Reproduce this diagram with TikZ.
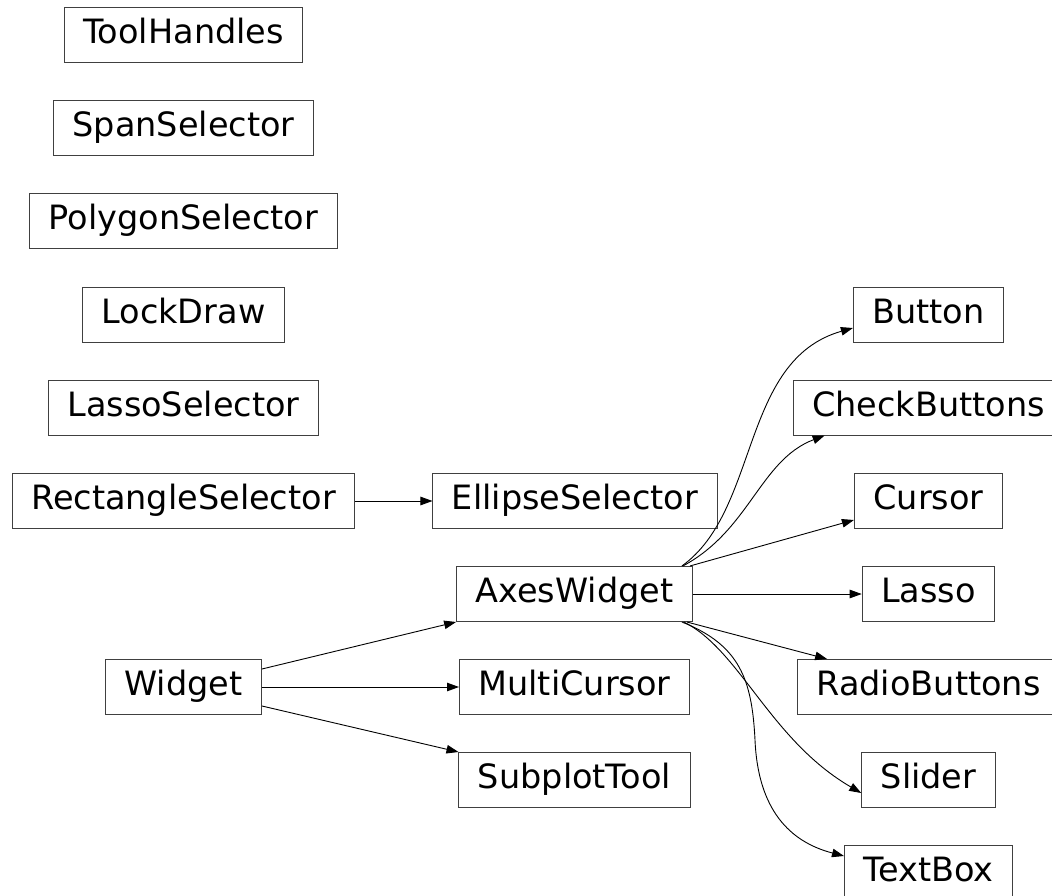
\documentclass[tikz,border=0pt]{standalone}
\usepackage{fontspec}
\setmainfont{DejaVu Sans}
\usetikzlibrary{arrows.meta}
\begin{document}
\begin{tikzpicture}[x=1pt,y=-1pt,
  cls/.style={draw=black!75,line width=1pt,rectangle,inner xsep=19pt,inner ysep=0pt,
    minimum height=55pt,text height=25pt,text depth=8pt,
    font=\fontsize{33.5}{40}\selectfont},
  edge/.style={draw=black,line width=0.9pt,-{Triangle[length=12pt,width=8.5pt]}}]
\useasboundingbox (0,0) rectangle (1052,896);
% left column
\node[cls] (toolh) at (183.5,35) {ToolHandles};
\node[cls] (span) at (183.5,128) {SpanSelector};
\node[cls] (poly) at (183.5,221) {PolygonSelector};
\node[cls] (lock) at (183.5,314.5) {LockDraw};
\node[cls] (lassosel) at (183.5,407.5) {LassoSelector};
\node[cls] (rect) at (183.5,501) {RectangleSelector};
\node[cls] (widget) at (183.5,687) {Widget};
% middle column
\node[cls] (ell) at (575,501) {EllipseSelector};
\node[cls] (axes) at (574.5,594) {AxesWidget};
\node[cls] (multi) at (574.5,687) {MultiCursor};
\node[cls] (subplot) at (574.5,780) {SubplotTool};
% right column
\node[cls] (button) at (928.5,314.5) {Button};
\node[cls] (check) at (928.5,407.5) {CheckButtons};
\node[cls] (cursor) at (928.5,501) {Cursor};
\node[cls] (lasso) at (928.5,594) {Lasso};
\node[cls] (radio) at (928.5,687) {RadioButtons};
\node[cls] (slider) at (928.5,780) {Slider};
\node[cls] (textbox) at (928.5,873) {TextBox};
% edges
\draw[edge] (rect.east) -- (ell.west);
\draw[edge] ([yshift=18pt]widget.east) -- (axes.south west);
\draw[edge] (widget.east) -- (multi.west);
\draw[edge] ([yshift=-19pt]widget.east) -- (subplot.north west);
\draw[edge] (axes.east) -- (lasso.west);
\draw[edge] ([xshift=-3pt]axes.north east) -- ([yshift=-19pt]cursor.west);
\draw[edge] ([xshift=-6pt]axes.south east) -- ([xshift=30pt]radio.north west);
\draw[edge] ([xshift=-11pt]axes.north east) .. controls (760,510) and (740,360) .. ([yshift=-13.5pt]button.west);
\draw[edge] ([xshift=-10pt]axes.north east) .. controls (750,530) and (760,460) .. ([xshift=32pt]check.south west);
\draw[edge] ([xshift=-9pt]axes.south east) .. controls (740,650) and (770,740) .. ([yshift=-13pt]slider.west);
\draw[edge] ([xshift=-11pt]axes.south east) .. controls (740,645) and (752,680) .. (755,740)
  .. controls (758,810) and (790,842) .. ([yshift=-11pt]textbox.north west);
\end{tikzpicture}
\end{document}
